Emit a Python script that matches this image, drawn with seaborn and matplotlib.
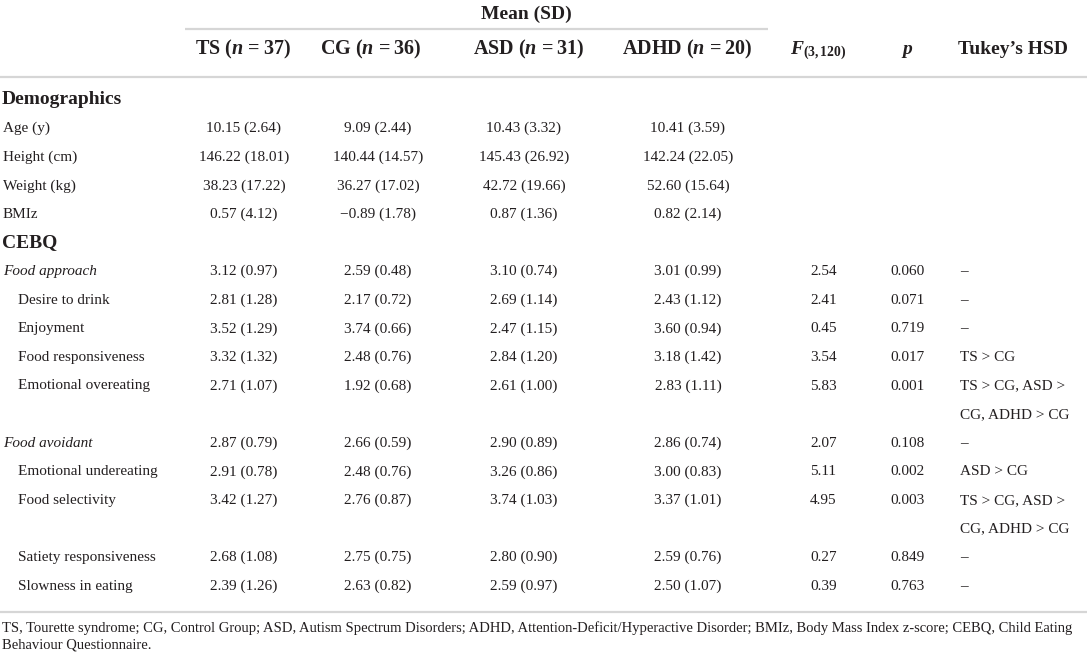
import seaborn as sns
import matplotlib.pyplot as plt

# Table values
row_labels = ["Demographics", "Age (y)", "Height (cm)", "Weight (kg)", "BMIz", "CEBQ",
              "Food approach", "Desire to drink", "Enjoyment", "Food responsiveness",
              "Emotional overeating", "Food avoidant", "Emotional undereating",
              "Food selectivity", "Satiety responsiveness", "Slowness in eating"]
row_kind = ["section", "plain", "plain", "plain", "plain", "section",
            "group", "sub", "sub", "sub", "sub", "group", "sub", "sub", "sub", "sub"]
ts_vals = ["", "10.15 (2.64)", "146.22 (18.01)", "38.23 (17.22)", "0.57 (4.12)", "",
           "3.12 (0.97)", "2.81 (1.28)", "3.52 (1.29)", "3.32 (1.32)", "2.71 (1.07)",
           "2.87 (0.79)", "2.91 (0.78)", "3.42 (1.27)", "2.68 (1.08)", "2.39 (1.26)"]
cg_vals = ["", "9.09 (2.44)", "140.44 (14.57)", "36.27 (17.02)", "\u22120.89 (1.78)", "",
           "2.59 (0.48)", "2.17 (0.72)", "3.74 (0.66)", "2.48 (0.76)", "1.92 (0.68)",
           "2.66 (0.59)", "2.48 (0.76)", "2.76 (0.87)", "2.75 (0.75)", "2.63 (0.82)"]
asd_vals = ["", "10.43 (3.32)", "145.43 (26.92)", "42.72 (19.66)", "0.87 (1.36)", "",
            "3.10 (0.74)", "2.69 (1.14)", "2.47 (1.15)", "2.84 (1.20)", "2.61 (1.00)",
            "2.90 (0.89)", "3.26 (0.86)", "3.74 (1.03)", "2.80 (0.90)", "2.59 (0.97)"]
adhd_vals = ["", "10.41 (3.59)", "142.24 (22.05)", "52.60 (15.64)", "0.82 (2.14)", "",
             "3.01 (0.99)", "2.43 (1.12)", "3.60 (0.94)", "3.18 (1.42)", "2.83 (1.11)",
             "2.86 (0.74)", "3.00 (0.83)", "3.37 (1.01)", "2.59 (0.76)", "2.50 (1.07)"]
f_vals = ["", "", "", "", "", "",
          "2.54", "2.41", "0.45", "3.54", "5.83", "2.07", "5.11", "4.95", "0.27", "0.39"]
p_vals = ["", "", "", "", "", "",
          "0.060", "0.071", "0.719", "0.017", "0.001", "0.108", "0.002", "0.003", "0.849", "0.763"]
tukey_vals = ["", "", "", "", "", "",
              "\u2013", "\u2013", "\u2013", "TS > CG", "TS > CG, ASD >\nCG, ADHD > CG",
              "\u2013", "ASD > CG", "TS > CG, ASD >\nCG, ADHD > CG", "\u2013", "\u2013"]

group_headers = ["TS ($n$ =\u200937)", "CG ($n$ =\u200936)", "ASD ($n$ =\u200931)", "ADHD ($n$ =\u200920)"]
stat_headers = ["$F_{\\mathrm{(3,120)}}$", "$p$", "Tukey\u2019s HSD"]
footnote = ["TS, Tourette syndrome; CG, Control Group; ASD, Autism Spectrum Disorders; ADHD, "
            "Attention-Deficit/Hyperactive Disorder; BMIz, Body Mass Index z-score; CEBQ, Child Eating",
            "Behaviour Questionnaire."]

sns.set_theme(style="white")
plt.rcParams["font.family"] = ["Liberation Serif", "DejaVu Serif"]
plt.rcParams["mathtext.fontset"] = "custom"
plt.rcParams["mathtext.rm"] = "Liberation Serif:bold"
plt.rcParams["mathtext.it"] = "Liberation Serif:italic:bold"
plt.rcParams["mathtext.bf"] = "Liberation Serif:bold"

ink = "#231f20"
rule = "#d6d6d6"

fig = plt.figure(figsize=(10.89, 6.59), dpi=100)
ax = fig.add_axes([0, 0, 1, 1])
ax.set_xlim(0, 1089)
ax.set_ylim(659, 0)
ax.axis("off")

# header
ax.text(526, 14, "Mean (SD)", ha="center", va="center", fontsize=14, fontweight="bold", color=ink)
for x, lab in zip([243, 371, 529, 687], group_headers):
    ax.text(x, 49, lab, ha="center", va="center", fontsize=14.5, fontweight="bold", color=ink)
ax.text(790, 51, stat_headers[0], ha="left", va="center", fontsize=14, color=ink)
ax.text(907, 51, stat_headers[1], ha="center", va="center", fontsize=14, color=ink)
ax.text(958, 49, stat_headers[2], ha="left", va="center", fontsize=14, fontweight="bold", color=ink)

ax.hlines(29, 185, 768, color=rule, lw=1.6)
ax.hlines(77, 0, 1087, color=rule, lw=1.6)
ax.hlines(612, 0, 1087, color=rule, lw=1.6)

# body rows, one slot per text line
y0, step = 100, 28.6
slot = 0
for i, lab in enumerate(row_labels):
    y = y0 + slot * step
    kind = row_kind[i]
    if kind == "section":
        ax.text(2, y, lab, ha="left", va="center", fontsize=14, fontweight="bold", color=ink)
    elif kind == "group":
        ax.text(3, y, lab, ha="left", va="center", fontsize=11, style="italic", color=ink)
    elif kind == "sub":
        ax.text(18, y, lab, ha="left", va="center", fontsize=11, color=ink)
    else:
        ax.text(3, y, lab, ha="left", va="center", fontsize=11, color=ink)
    for x, col in zip([244, 378, 524, 688], [ts_vals, cg_vals, asd_vals, adhd_vals]):
        ax.text(x, y, col[i], ha="center", va="center", fontsize=11, color=ink)
    ax.text(810, y, f_vals[i], ha="left", va="center", fontsize=11, color=ink)
    ax.text(890, y, p_vals[i], ha="left", va="center", fontsize=11, color=ink)
    lines = tukey_vals[i].split("\n")
    for k, t in enumerate(lines):
        ax.text(960, y + k * step, t, ha="left", va="center", fontsize=11, color=ink)
    slot += len(lines)

ax.text(2, 628, footnote[0], ha="left", va="center", fontsize=10.5, color=ink)
ax.text(2, 645, footnote[1], ha="left", va="center", fontsize=10.5, color=ink)

fig.savefig("out.png", dpi=100)
